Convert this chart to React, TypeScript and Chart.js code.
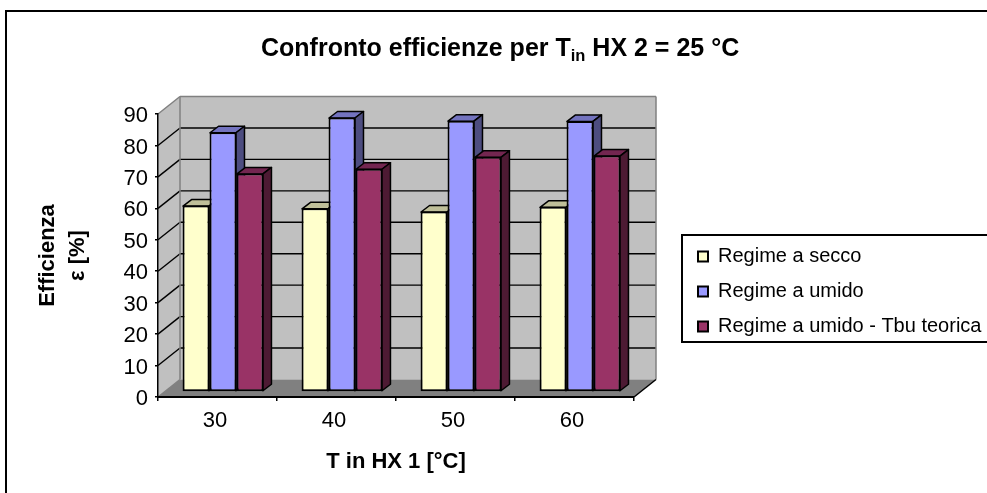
import { useEffect, useRef } from "react";
import { Chart, registerables } from "chart.js";

Chart.register(...registerables);

const categories = ["30", "40", "50", "60"];
const seriesNames = ["Regime a secco", "Regime a umido", "Regime a umido - Tbu teorica"];
const secco = [59.3, 58.4, 57.4, 58.9];
const umido = [82.6, 87.3, 86.3, 86.2];
const teorica = [69.5, 71, 74.8, 75.2];
const frontColors = ["#FFFFCC", "#9999FF", "#993366"];
const topColors = ["#BFBF99", "#7373BF", "#732650"];
const sideColors = ["#808066", "#4D4D80", "#4D1A33"];

const FONT = '"Liberation Sans", Arial, sans-serif';
const WALL_DX = 22;
const WALL_DY = -17.5;
const BAR_DX = 5.5;
const BAR_DY = -5;
const DEPTH_DX = 8.5;
const DEPTH_DY = -6.5;

function line(ctx: CanvasRenderingContext2D, x1: number, y1: number, x2: number, y2: number, color: string, w: number) {
  ctx.strokeStyle = color;
  ctx.lineWidth = w;
  ctx.beginPath();
  ctx.moveTo(x1, y1);
  ctx.lineTo(x2, y2);
  ctx.stroke();
}

function poly(ctx: CanvasRenderingContext2D, pts: number[][], fill: string, stroke?: string, w = 1.5) {
  ctx.beginPath();
  pts.forEach((p, i) => (i ? ctx.lineTo(p[0], p[1]) : ctx.moveTo(p[0], p[1])));
  ctx.closePath();
  ctx.fillStyle = fill;
  ctx.fill();
  if (stroke) {
    ctx.strokeStyle = stroke;
    ctx.lineWidth = w;
    ctx.lineJoin = "round";
    ctx.stroke();
  }
}

const frame3d = {
  id: "frame3d",
  afterLayout(chart: any) {
    const lg = chart.legend;
    lg.left = 683;
    lg.top = 223;
    lg.right = 990;
    lg.bottom = 360;
    lg.width = 307;
    lg.height = 137;
  },
  beforeDraw(chart: any) {
    const { ctx, chartArea: a, scales } = chart;
    const y = scales.y;
    ctx.save();
    ctx.fillStyle = "#fff";
    ctx.fillRect(0, 0, chart.width, chart.height);
    // outer border and legend box
    ctx.strokeStyle = "#000";
    ctx.lineWidth = 2;
    ctx.strokeRect(6, 11, 1100, 800);
    ctx.strokeRect(682, 235, 400, 107);

    const L = a.left, R = a.right, T = a.top, B = a.bottom;
    // walls
    poly(ctx, [[L + WALL_DX, T + WALL_DY], [R + WALL_DX, T + WALL_DY], [R + WALL_DX, B + WALL_DY], [L + WALL_DX, B + WALL_DY]], "#C0C0C0");
    poly(ctx, [[L, T], [L + WALL_DX, T + WALL_DY], [L + WALL_DX, B + WALL_DY], [L, B]], "#C0C0C0");
    // floor
    poly(ctx, [[L, B], [R, B], [R + WALL_DX, B + WALL_DY], [L + WALL_DX, B + WALL_DY]], "#808080");
    // grid lines on the walls
    y.ticks.forEach((t: any) => {
      if (t.value === 0 || t.value === y.max) return;
      const py = y.getPixelForValue(t.value);
      line(ctx, L, py, L + WALL_DX, py + WALL_DY, "#000", 1.4);
      line(ctx, L + WALL_DX, py + WALL_DY, R + WALL_DX, py + WALL_DY, "#000", 1.4);
    });
    // wall edges
    line(ctx, L, T, L + WALL_DX, T + WALL_DY, "#808080", 1.5);
    line(ctx, L + WALL_DX, T + WALL_DY, R + WALL_DX, T + WALL_DY, "#808080", 1.5);
    line(ctx, R + WALL_DX, T + WALL_DY, R + WALL_DX, B + WALL_DY, "#808080", 1.5);
    line(ctx, L + WALL_DX, T + WALL_DY, L + WALL_DX, B + WALL_DY, "#808080", 1.5);
    line(ctx, L, B, L + WALL_DX, B + WALL_DY, "#808080", 1.5);
    line(ctx, R, B, R + WALL_DX, B + WALL_DY, "#000", 1.5);

    // title with subscript
    ctx.fillStyle = "#000";
    ctx.textBaseline = "alphabetic";
    ctx.textAlign = "left";
    let x = 261;
    const base = 56;
    const parts: [string, number, number][] = [
      ["Confronto efficienze per T", 25, 0],
      ["in", 16.5, 5],
      [" HX 2 = 25 °C", 25, 0],
    ];
    parts.forEach(([s, size, dy]) => {
      ctx.font = `bold ${size}px ${FONT}`;
      ctx.fillText(s, x, base + dy);
      x += ctx.measureText(s).width;
    });
    ctx.restore();
  },
  beforeDatasetsDraw(chart: any) {
    const { ctx } = chart;
    ctx.save();
    ctx.translate(BAR_DX, BAR_DY);
    chart.data.datasets.forEach((_: any, di: number) => {
      chart.getDatasetMeta(di).data.forEach((el: any) => {
        const { x, y, width, base } = el.getProps(["x", "y", "width", "base"], true);
        const l = x - width / 2 + 0.5;
        const r = x + width / 2 - 0.5;
        const t = y + 0.5;
        const b = base - 0.5;
        poly(ctx, [[l, t], [r, t], [r + DEPTH_DX, t + DEPTH_DY], [l + DEPTH_DX, t + DEPTH_DY]], topColors[di], "#000");
        poly(ctx, [[r, t], [r + DEPTH_DX, t + DEPTH_DY], [r + DEPTH_DX, b + DEPTH_DY], [r, b]], sideColors[di], "#000");
      });
    });
  },
  afterDatasetsDraw(chart: any) {
    chart.ctx.restore();
  },
};

export default function App() {
  const ref = useRef<HTMLCanvasElement>(null);
  useEffect(() => {
    const mk = (label: string, data: number[], i: number) => ({
      label,
      data,
      backgroundColor: frontColors[i],
      borderColor: "#000",
      borderWidth: 2,
      borderSkipped: false,
      clip: false,
    });
    const chart = new Chart(ref.current!, {
      type: "bar",
      data: {
        labels: categories,
        datasets: [mk(seriesNames[0], secco, 0), mk(seriesNames[1], umido, 1), mk(seriesNames[2], teorica, 2)],
      } as any,
      plugins: [frame3d],
      options: {
        responsive: false,
        animation: false,
        layout: { padding: { left: 0, top: 114, right: 53, bottom: 0 } },
        datasets: { bar: { categoryPercentage: 0.68, barPercentage: 1 } },
        scales: {
          x: {
            afterFit: (s: any) => { s.height = 96; },
            grid: { offset: true, drawOnChartArea: false, drawTicks: true, tickLength: 4, color: "#000", lineWidth: 1.5 },
            border: { color: "#000", width: 2 },
            ticks: { color: "#000", font: { family: FONT, size: 22 }, padding: 7, labelOffset: -2.5, maxRotation: 0 },
            title: { display: true, text: "T in HX 1 [°C]", color: "#000", font: { family: FONT, size: 22, weight: "bold" }, padding: { top: 0, bottom: 18 } },
          },
          y: {
            min: 0,
            max: 90,
            afterFit: (s: any) => { s.width = 158; },
            grid: { drawOnChartArea: false, drawTicks: true, tickLength: 3, color: "#000", lineWidth: 1.5 },
            border: { color: "#000", width: 1.5 },
            ticks: { stepSize: 10, color: "#000", font: { family: FONT, size: 22 }, padding: 7, labelOffset: 2 },
            title: { display: true, text: ["Efficienza", "ε [%]"], color: "#000", font: { family: FONT, size: 22, weight: "bold", lineHeight: 1.36 }, padding: { top: 33, bottom: 0 } },
          },
        },
        plugins: {
          title: { display: false, text: "Confronto efficienze per Tin HX 2 = 25 °C" },
          tooltip: { enabled: false },
          legend: {
            position: "right",
            maxWidth: 300,
            labels: { color: "#000", boxWidth: 10, boxHeight: 10, padding: 15, font: { family: FONT, size: 20 } },
          },
        },
      } as any,
    });
    return () => chart.destroy();
  }, []);
  return (
    <div style={{ position: "absolute", left: 0, top: 0, width: 987, height: 493, overflow: "hidden" }}>
      <canvas ref={ref} width={987} height={493} style={{ display: "block" }} />
    </div>
  );
}
